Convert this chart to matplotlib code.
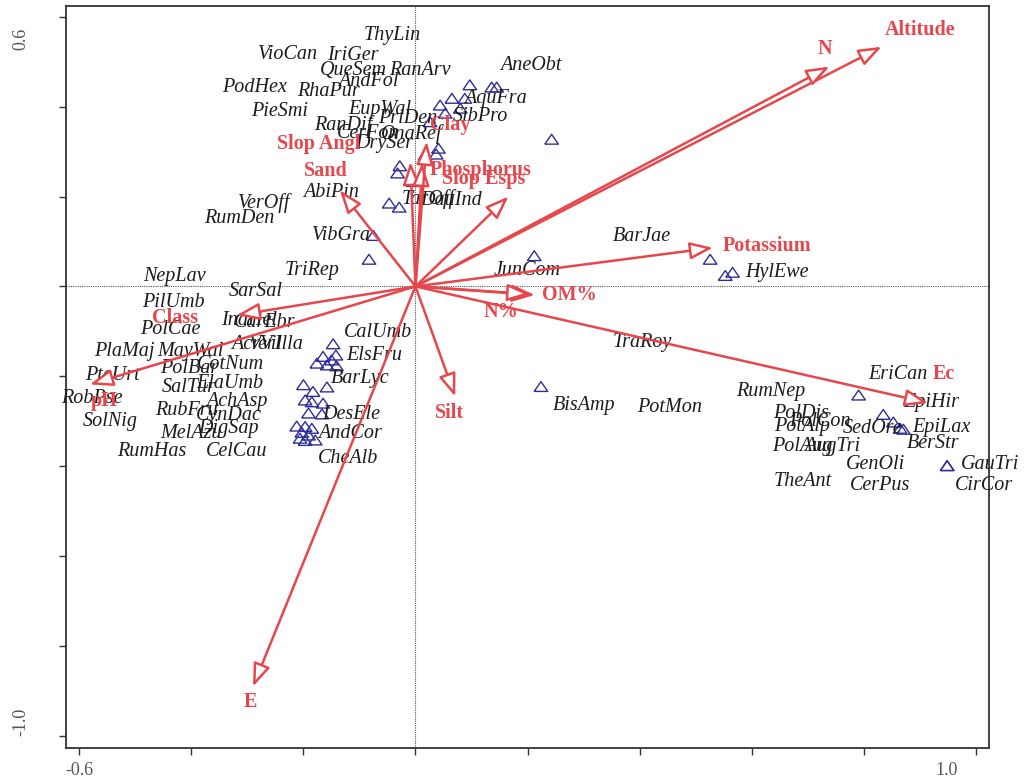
import matplotlib
matplotlib.use("Agg")
import matplotlib.pyplot as plt
from matplotlib.patches import FancyArrowPatch, ArrowStyle
from matplotlib.transforms import ScaledTranslation

# ---- environmental vectors (biplot scores) ----
env_names = ["Altitude", "N", "Potassium", "Ec", "OM%", "N%", "Silt", "E",
             "Class", "pH", "Sand", "Slop Angl", "Phosphorus", "Slop Esps", "Clay"]
env_x = [0.832, 0.739, 0.531, 0.915, 0.213, 0.205, 0.071, -0.290,
         -0.319, -0.581, -0.135, -0.009, 0.012, 0.166, 0.020]
env_y = [0.533, 0.489, 0.086, -0.259, -0.019, -0.017, -0.245, -0.890,
         -0.064, -0.218, 0.214, 0.277, 0.275, 0.200, 0.322]
env_lab_x = [0.900, 0.731, 0.627, 0.943, 0.275, 0.152, 0.060, -0.295,
             -0.429, -0.556, -0.160, -0.172, 0.116, 0.122, 0.062]
env_lab_y = [0.570, 0.527, 0.090, -0.195, -0.019, -0.056, -0.282, -0.925,
             -0.070, -0.255, 0.257, 0.317, 0.259, 0.240, 0.359]

# ---- species scores ----
sp_names = ["ThyLin", "VioCan", "IriGer", "QueSem", "RanArv", "AndFol", "PodHex",
            "RhaPur", "PieSmi", "EupWal", "PriDen", "RanDif", "CerFon", "OnaRef",
            "DrySer", "SibPro", "AquFra", "AneObt", "AbiPin", "VerOff", "RumDen",
            "TarOff", "DauInd", "VibGra", "TriRep", "NepLav", "SarSal", "PilUmb",
            "PolCae", "IndHel", "CarEbr", "AcrVil", "VerIlla", "CalUmb", "ElsFru",
            "BarLyc", "PlaMaj", "MayWal", "CotNum", "PolBar", "PteUrt", "ElaUmb",
            "SalTur", "RobPse", "AchAsp", "RubFru", "CynDac", "SolNig", "DigSap",
            "MelAzu", "RumHas", "CelCau", "DesEle", "AndCor", "CheAlb", "JunCom",
            "BisAmp", "BarJae", "HylEwe", "TraRoy", "PotMon", "RumNep", "EriCan",
            "EpiHir", "PolDis", "PotAlp", "PolCon", "SedOre", "EpiLax", "BerStr",
            "PolAug", "AugTri", "TheAnt", "GenOli", "CerPus", "GauTri", "CirCor"]
sp_x = [-0.041, -0.227, -0.111, -0.111, 0.008, -0.084, -0.287,
        -0.156, -0.242, -0.063, -0.014, -0.129, -0.084, -0.007,
        -0.056, 0.116, 0.143, 0.206, -0.151, -0.270, -0.315,
        0.023, 0.063, -0.132, -0.185, -0.431, -0.285, -0.432,
        -0.438, -0.297, -0.269, -0.283, -0.248, -0.066, -0.074,
        -0.098, -0.520, -0.402, -0.331, -0.404, -0.541, -0.331,
        -0.405, -0.577, -0.319, -0.408, -0.334, -0.544, -0.334,
        -0.401, -0.471, -0.319, -0.114, -0.117, -0.120, 0.200,
        0.301, 0.405, 0.645, 0.405, 0.454, 0.635, 0.861,
        0.921, 0.689, 0.690, 0.722, 0.816, 0.939, 0.924,
        0.690, 0.743, 0.692, 0.822, 0.830, 1.026, 1.015]
sp_y = [0.557, 0.515, 0.513, 0.481, 0.481, 0.455, 0.443,
        0.433, 0.389, 0.394, 0.374, 0.359, 0.341, 0.340,
        0.317, 0.378, 0.418, 0.492, 0.208, 0.185, 0.151,
        0.194, 0.192, 0.114, 0.035, 0.023, -0.012, -0.036,
        -0.096, -0.075, -0.081, -0.130, -0.130, -0.103, -0.153,
        -0.204, -0.145, -0.145, -0.173, -0.182, -0.199, -0.216,
        -0.224, -0.249, -0.256, -0.275, -0.288, -0.301, -0.316,
        -0.327, -0.368, -0.368, -0.284, -0.328, -0.382, 0.035,
        -0.264, 0.111, 0.031, -0.124, -0.269, -0.234, -0.195,
        -0.259, -0.282, -0.312, -0.301, -0.316, -0.313, -0.349,
        -0.357, -0.357, -0.434, -0.397, -0.442, -0.397, -0.442]

# ---- site scores ----
site_x = [0.097, 0.136, 0.145, 0.065, 0.088, 0.044, 0.080, 0.053, 0.026, 0.243,
          0.041, 0.037, 0.017, -0.028, -0.032, -0.004, -0.047, -0.029, -0.075, -0.083,
          0.212, 0.224, 0.526, 0.553, 0.566, 0.791, 0.835, 0.853, 0.865, 0.871,
          0.949, 0.949,
          -0.147, -0.165, -0.142, -0.176, -0.158, -0.141, -0.150, -0.200, -0.183, -0.158,
          -0.197, -0.185, -0.165, -0.191, -0.167, -0.212, -0.197, -0.185, -0.203, -0.191,
          -0.179, -0.197, -0.206]
site_y = [0.448, 0.443, 0.443, 0.418, 0.418, 0.403, 0.396, 0.385, 0.366, 0.327,
          0.307, 0.294, 0.292, 0.268, 0.252, 0.233, 0.185, 0.176, 0.113, 0.060,
          0.068, -0.223, 0.060, 0.024, 0.031, -0.242, -0.285, -0.302, -0.316, -0.318,
          -0.399, -0.399,
          -0.128, -0.156, -0.153, -0.171, -0.175, -0.177, -0.164, -0.219, -0.234, -0.224,
          -0.253, -0.257, -0.260, -0.282, -0.284, -0.311, -0.312, -0.316, -0.325, -0.331,
          -0.342, -0.343, -0.338]

RED = "#E6474C"
NAVY = "#2E2E96"
SERIF = ["Liberation Serif", "DejaVu Serif"]

fig = plt.figure(figsize=(10.27, 7.80), dpi=100)
ax = fig.add_axes([0.064, 0.0414, 0.8993, 0.9509])
ax.set_xlim(-0.6243, 1.0243)
ax.set_ylim(-1.026, 0.6237)

# reference lines through the origin
ax.axhline(0, color="#555555", lw=0.8, ls=(0, (1, 1)), zorder=1)
ax.axvline(0, color="#555555", lw=0.8, ls=(0, (1, 1)), zorder=1)

# sites as open triangles
tri = [(-1.0, -0.7), (1.0, -0.7), (0.0, 0.75), (-1.0, -0.7)]
ax.scatter(site_x, site_y, marker=tri, s=95, facecolors="none",
           edgecolors=NAVY, linewidths=1.0, zorder=2)

# species names
for name, x, y in zip(sp_names, sp_x, sp_y):
    ax.text(x, y, name, ha="center", va="center", fontsize=14.5,
            family=SERIF, style="italic", color="#1c1c1c", zorder=3)

# environmental arrows with open heads
style = ArrowStyle("-|>", head_length=14, head_width=5.2)
for x, y in zip(env_x, env_y):
    arr = FancyArrowPatch((0, 0), (x, y), arrowstyle=style, mutation_scale=1,
                          shrinkA=0, shrinkB=0, lw=1.8, edgecolor=RED,
                          facecolor="white", zorder=4)
    ax.add_patch(arr)
for name, x, y in zip(env_names, env_lab_x, env_lab_y):
    ax.text(x, y, name, ha="center", va="center", fontsize=14.5,
            family=SERIF, weight="bold", color=RED, zorder=5)

# axes frame and ticks
for sp in ax.spines.values():
    sp.set_color("#333333")
    sp.set_linewidth(1.3)

xt = [-0.6, -0.4, -0.2, 0.0, 0.2, 0.4, 0.6, 0.8, 1.0]
yt = [-1.0, -0.8, -0.6, -0.4, -0.2, 0.0, 0.2, 0.4, 0.6]
ax.set_xticks(xt)
ax.set_xticklabels(["-0.6"] + [""] * 7 + ["1.0"])
ax.set_yticks(yt)
ax.set_yticklabels(["-1.0"] + [""] * 7 + ["0.6"])
ax.tick_params(axis="both", direction="out", length=5, width=1.0,
               color="#333333", labelcolor="#555555", labelsize=13)
ax.tick_params(axis="x", pad=5)
ax.tick_params(axis="y", pad=21)
for lab in ax.get_xticklabels() + ax.get_yticklabels():
    lab.set_family(SERIF)
ylabs = ax.get_yticklabels()
for lab in ylabs:
    lab.set_rotation(90)
ylabs[0].set_va("bottom")
ylabs[-1].set_va("top")
ylabs[-1].set_transform(ylabs[-1].get_transform() +
                        ScaledTranslation(0, -8 / 72, fig.dpi_scale_trans))
xlabs = ax.get_xticklabels()
xlabs[-1].set_ha("right")
xlabs[-1].set_transform(xlabs[-1].get_transform() +
                        ScaledTranslation(-13 / 72, 0, fig.dpi_scale_trans))

fig.savefig("out.png", dpi=100)
